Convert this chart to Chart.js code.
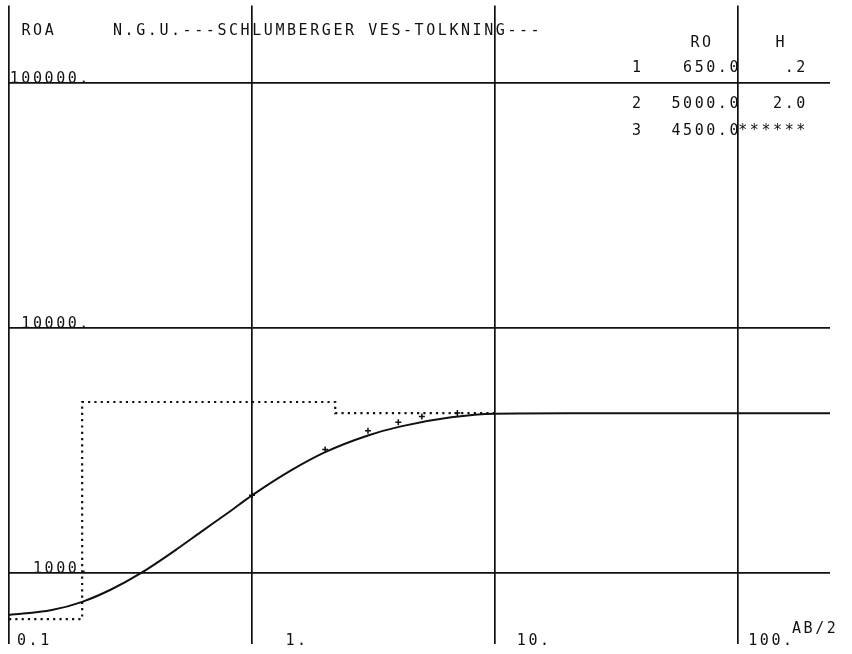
<!DOCTYPE html>
<html>
<head>
<meta charset="utf-8">
<script src="https://cdn.jsdelivr.net/npm/chart.js@4.4.1/dist/chart.umd.min.js"></script>
<style>
  html, body { margin: 0; padding: 0; background: #fff; }
  #wrap { width: 852px; height: 654px; }
</style>
</head>
<body>
<div id="wrap"><canvas id="vesChart" width="852" height="654"></canvas></div>
<script>
// beregnet kurve (AB/2 -> ROA)
const abHalf = [0.1, 0.15, 0.2, 0.263, 0.35, 0.5, 0.617, 0.8, 1.0, 1.447, 2.0, 3.0, 4.1, 6.6, 10, 20, 50, 250];
const rhoCalc = [675, 707, 764, 858, 1003, 1270, 1475, 1770, 2078, 2628, 3120, 3650, 3975, 4330, 4480, 4500, 4500, 4500];

// målte punkter
const fieldAB = [1, 2, 3, 4, 5, 7];
const fieldRho = [2080, 3200, 3820, 4130, 4360, 4510];

// lagmodell (trappekurve)
const modelDepth = [0.1, 0.2, 0.2, 2.2, 2.2, 10];
const modelRho = [650, 650, 5000, 5000, 4500, 4500];

// tabell oppe til høyre
const layerNr = ['1', '2', '3'];
const layerRo = ['650.0', '5000.0', '4500.0'];
const layerH = ['.2', '2.0', '******'];

const xTickVals = [0.1, 1, 10, 100];
const xTickLabels = ['0.1', '1.', '10.', '100.'];
const yTickVals = [1000, 10000, 100000];
const yTickLabels = ['1000.', '10000.', '100000.'];

const toPoints = (xs, ys) => xs.map((x, i) => ({ x: x, y: ys[i] }));

const ADV = 11.6; // tegnbredde, plotter-skrift
const INK = '#111';

const plotterText = {
  id: 'plotterText',
  afterDraw(chart) {
    const ctx = chart.ctx;
    const xs = chart.scales.x;
    const ys = chart.scales.y;
    ctx.save();
    ctx.fillStyle = INK;
    ctx.font = '15px "DejaVu Sans Mono", monospace';
    ctx.textBaseline = 'alphabetic';
    ctx.textAlign = 'left';
    ctx.letterSpacing = '0px';
    const cw = ctx.measureText('0').width;
    const sp = ADV - cw;
    ctx.letterSpacing = sp + 'px';
    const w = (s) => s.length * ADV - sp;
    const right = (s, r, y) => ctx.fillText(s, r - w(s), y);

    // overskrift
    ctx.fillText('ROA', 21.5, 35);
    ctx.fillText('N.G.U.---SCHLUMBERGER VES-TOLKNING---', 113, 35);

    // y-verdier over linjene
    yTickVals.forEach((v, i) => {
      right(yTickLabels[i], 88.4, ys.getPixelForValue(v) - 0.5);
    });

    // x-verdier ved bunnen
    xTickVals.forEach((v, i) => {
      const px = xs.getPixelForValue(v);
      if (i === 0) ctx.fillText(xTickLabels[i], px + 8, 645);
      else right(xTickLabels[i], px + 54, 645);
    });
    ctx.fillText('AB/2', 792, 633);

    // lagtabell
    ctx.fillText('RO', 690.5, 46.7);
    ctx.fillText('H', 775.5, 46.7);
    const rowY = [71.7, 108, 135];
    layerNr.forEach((n, i) => {
      ctx.fillText(n, 632, rowY[i]);
      right(layerRo[i], 738.5, rowY[i]);
      right(layerH[i], 805.3, rowY[i]);
    });
    ctx.restore();
  }
};

const ctx = document.getElementById('vesChart').getContext('2d');
new Chart(ctx, {
  type: 'line',
  data: {
    datasets: [
      {
        label: 'modell',
        data: toPoints(modelDepth, modelRho),
        borderColor: INK,
        borderWidth: 2.2,
        borderDash: [2.2, 4.1],
        pointRadius: 0,
        fill: false
      },
      {
        label: 'ROA beregnet',
        data: toPoints(abHalf, rhoCalc),
        borderColor: INK,
        borderWidth: 2,
        pointRadius: 0,
        cubicInterpolationMode: 'monotone',
        fill: false
      },
      {
        label: 'ROA målt',
        data: toPoints(fieldAB, fieldRho),
        showLine: false,
        pointStyle: 'cross',
        pointRadius: 3,
        borderColor: INK,
        borderWidth: 1.5
      }
    ]
  },
  options: {
    responsive: false,
    animation: false,
    layout: { padding: { left: 9, right: 22, top: 4, bottom: 10 } },
    plugins: {
      legend: { display: false },
      tooltip: { enabled: false }
    },
    scales: {
      x: {
        type: 'logarithmic',
        min: 0.1,
        max: 239,
        bounds: 'data',
        afterBuildTicks: (scale) => { scale.ticks = xTickVals.map(v => ({ value: v })); },
        ticks: { display: false },
        border: { display: false },
        grid: { color: INK, lineWidth: 1.7, drawTicks: false }
      },
      y: {
        type: 'logarithmic',
        min: 514,
        max: 207800,
        bounds: 'data',
        afterBuildTicks: (scale) => { scale.ticks = yTickVals.map(v => ({ value: v })); },
        ticks: { display: false },
        border: { display: false },
        grid: { color: INK, lineWidth: 1.7, drawTicks: false }
      }
    }
  },
  plugins: [plotterText]
});
</script>
</body>
</html>
